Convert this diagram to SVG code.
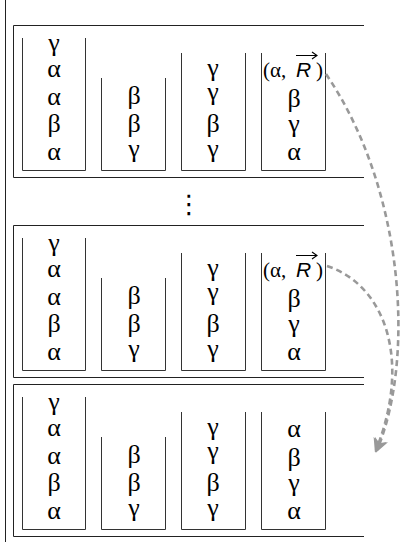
<svg xmlns="http://www.w3.org/2000/svg" width="403" height="542" viewBox="0 0 403 542">
<defs>
<style>
.frame{fill:none;stroke:#222;stroke-width:1}
.cup{fill:none;stroke:#333;stroke-width:1}
.g{font-family:"Liberation Serif","DejaVu Serif",serif;font-size:26px;fill:#000;text-anchor:middle}
.lbl{font-family:"Liberation Serif","DejaVu Serif",serif;font-size:21px;fill:#000}
.sans{font-family:"Liberation Sans",Arial,sans-serif;font-style:italic;font-size:21px}
.vec{fill:none;stroke:#000;stroke-width:1.1}
.flow{fill:none;stroke:#999;stroke-width:2.6;stroke-dasharray:6 4}
</style>
<marker id="ah" viewBox="0 0 10 10" refX="8" refY="5" markerWidth="5.5" markerHeight="5.5" orient="auto" markerUnits="strokeWidth">
<path d="M0,0 L10,5 L0,10 L3,5 Z" fill="#999"/>
</marker>
</defs>
<rect width="403" height="542" fill="#fff"/>
<line x1="5.5" y1="0" x2="5.5" y2="542" class="frame"/>

<g id="panel1">
<path class="frame" d="M364,25.5 H13.5 V177.5 H364"/>
<g id="p1-cup1"><path class="cup" d="M22.5,38 V170.5 H85.5 V38"/>
<text class="g" x="54" y="51">γ</text><text class="g" x="54" y="77">α</text><text class="g" x="54" y="105">α</text><text class="g" x="54" y="132">β</text><text class="g" x="54" y="160">α</text></g>
<g id="p1-cup2"><path class="cup" d="M101.5,78 V170.5 H165.5 V78"/>
<text class="g" x="134" y="104">β</text><text class="g" x="134" y="132">β</text><text class="g" x="134" y="157">γ</text></g>
<g id="p1-cup3"><path class="cup" d="M181.5,53 V170.5 H245.5 V53"/>
<text class="g" x="213" y="76">γ</text><text class="g" x="213" y="100">γ</text><text class="g" x="213" y="132">β</text><text class="g" x="213" y="157">γ</text></g>
<g id="p1-cup4"><path class="cup" d="M261.5,53 V170.5 H325.5 V53"/>
<text class="lbl" x="263" y="77">(α, <tspan class="sans" x="296">R</tspan><tspan x="316">)</tspan></text>
<path class="vec" d="M296,55.5 H316 M312,52 L317,55.5 L312,59"/>
<text class="g" x="294" y="107">β</text><text class="g" x="294" y="132">γ</text><text class="g" x="294" y="160">α</text></g>
</g>

<g id="dots"><text x="189" y="213" font-family="DejaVu Sans,sans-serif" font-size="26" text-anchor="middle">⋮</text></g>

<g id="panel2" transform="translate(0,200)">
<path class="frame" d="M364,25.5 H13.5 V177.5 H364"/>
<g id="p2-cup1"><path class="cup" d="M22.5,38 V170.5 H85.5 V38"/>
<text class="g" x="54" y="51">γ</text><text class="g" x="54" y="77">α</text><text class="g" x="54" y="105">α</text><text class="g" x="54" y="132">β</text><text class="g" x="54" y="160">α</text></g>
<g id="p2-cup2"><path class="cup" d="M101.5,78 V170.5 H165.5 V78"/>
<text class="g" x="134" y="104">β</text><text class="g" x="134" y="132">β</text><text class="g" x="134" y="157">γ</text></g>
<g id="p2-cup3"><path class="cup" d="M181.5,53 V170.5 H245.5 V53"/>
<text class="g" x="213" y="76">γ</text><text class="g" x="213" y="100">γ</text><text class="g" x="213" y="132">β</text><text class="g" x="213" y="157">γ</text></g>
<g id="p2-cup4"><path class="cup" d="M261.5,53 V170.5 H325.5 V53"/>
<text class="lbl" x="263" y="77">(α, <tspan class="sans" x="296">R</tspan><tspan x="316">)</tspan></text>
<path class="vec" d="M296,55.5 H316 M312,52 L317,55.5 L312,59"/>
<text class="g" x="294" y="107">β</text><text class="g" x="294" y="132">γ</text><text class="g" x="294" y="160">α</text></g>
</g>

<g id="panel3" transform="translate(0,359)">
<path class="frame" d="M364,25.5 H13.5 V177.5 H364"/>
<g id="p3-cup1"><path class="cup" d="M22.5,38 V170.5 H85.5 V38"/>
<text class="g" x="54" y="51">γ</text><text class="g" x="54" y="77">α</text><text class="g" x="54" y="105">α</text><text class="g" x="54" y="132">β</text><text class="g" x="54" y="160">α</text></g>
<g id="p3-cup2"><path class="cup" d="M101.5,78 V170.5 H165.5 V78"/>
<text class="g" x="134" y="104">β</text><text class="g" x="134" y="132">β</text><text class="g" x="134" y="157">γ</text></g>
<g id="p3-cup3"><path class="cup" d="M181.5,53 V170.5 H245.5 V53"/>
<text class="g" x="213" y="76">γ</text><text class="g" x="213" y="100">γ</text><text class="g" x="213" y="132">β</text><text class="g" x="213" y="157">γ</text></g>
<g id="p3-cup4"><path class="cup" d="M261.5,53 V170.5 H325.5 V53"/>
<text class="g" x="294" y="78">α</text>
<text class="g" x="294" y="107">β</text><text class="g" x="294" y="132">γ</text><text class="g" x="294" y="160">α</text></g>
</g>

<g id="connectors">
<path class="flow" d="M326,74 C405,190 415,360 377,450" marker-end="url(#ah)"/>
<path class="flow" d="M327,266 C385,285 412,360 376,450" marker-end="url(#ah)"/>
</g>
</svg>
